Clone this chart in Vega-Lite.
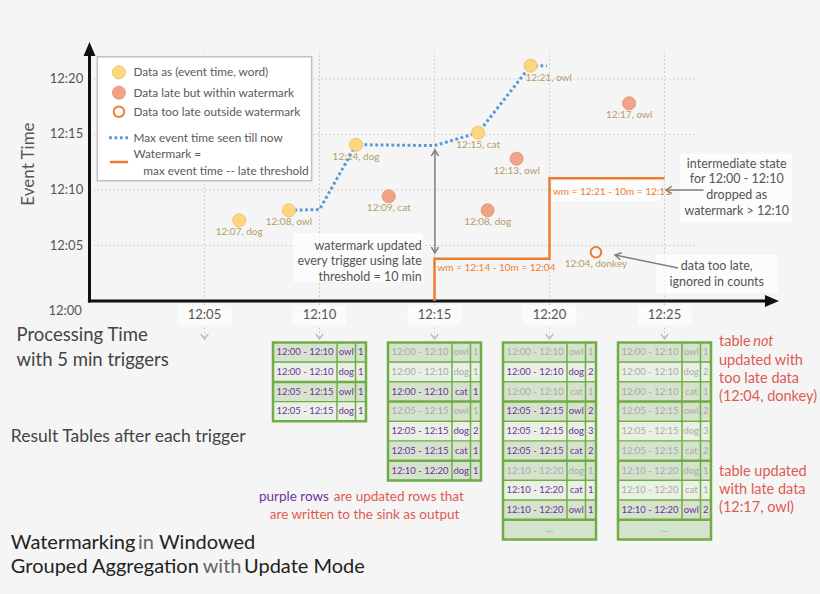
{
"$schema": "https://vega.github.io/schema/vega-lite/v6.json",
"width": 820, "height": 594,
"autosize": {"type": "fit", "contains": "padding"},
"padding": 0,
"background": "#f5f5f5",
"config": {"view": {"stroke": null}, "axis": {"disable": true}, "legend": {"disable": true}, "font": "Lato"},
"datasets": {
 "events": [
  {"pt": 6.51, "et": 7.27, "label": "12:07, dog", "kind": "on time"},
  {"pt": 8.67, "et": 8.17, "label": "12:08, owl", "kind": "on time"},
  {"pt": 11.59, "et": 14.08, "label": "12:14, dog", "kind": "on time"},
  {"pt": 16.9, "et": 15.16, "label": "12:15, cat", "kind": "on time"},
  {"pt": 19.18, "et": 21.2, "label": "12:21, owl", "kind": "on time"},
  {"pt": 13.01, "et": 9.43, "label": "12:09, cat", "kind": "late"},
  {"pt": 17.31, "et": 8.17, "label": "12:08, dog", "kind": "late"},
  {"pt": 18.57, "et": 12.82, "label": "12:13, owl", "kind": "late"},
  {"pt": 23.46, "et": 17.81, "label": "12:17, owl", "kind": "late"},
  {"pt": 22.02, "et": 4.39, "label": "12:04, donkey", "kind": "too late"}
 ],
 "maxline": [
  {"pt": 8.67, "et": 8.17}, {"pt": 10.0, "et": 8.24}, {"pt": 11.59, "et": 14.08},
  {"pt": 15.0, "et": 14.0}, {"pt": 16.9, "et": 15.16}, {"pt": 19.18, "et": 21.2}, {"pt": 19.88, "et": 21.2}
 ],
 "watermark": [
  {"i": 0, "pt": 15, "wm": 0}, {"i": 1, "pt": 15, "wm": 3.8}, {"i": 2, "pt": 20, "wm": 3.8},
  {"i": 3, "pt": 20, "wm": 11.05}, {"i": 4, "pt": 25, "wm": 11.05}
 ],
 "ticks": [
  {"t": 5, "lab": "12:05"}, {"t": 10, "lab": "12:10"}, {"t": 15, "lab": "12:15"}, {"t": 20, "lab": "12:20"}, {"t": 25, "lab": "12:25"}
 ],
 "rows": [
  {"pt": 10, "row": 0, "win": "12:00 - 12:10", "word": "owl", "count": 1, "k": 0, "upd": true, "dots": false},
  {"pt": 10, "row": 1, "win": "12:00 - 12:10", "word": "dog", "count": 1, "k": 1, "upd": true, "dots": false},
  {"pt": 10, "row": 2, "win": "12:05 - 12:15", "word": "owl", "count": 1, "k": 0, "upd": true, "dots": false},
  {"pt": 10, "row": 3, "win": "12:05 - 12:15", "word": "dog", "count": 1, "k": 1, "upd": true, "dots": false},
  {"pt": 15, "row": 0, "win": "12:00 - 12:10", "word": "owl", "count": 1, "k": 0, "upd": false, "dots": false},
  {"pt": 15, "row": 1, "win": "12:00 - 12:10", "word": "dog", "count": 1, "k": 1, "upd": false, "dots": false},
  {"pt": 15, "row": 2, "win": "12:00 - 12:10", "word": "cat", "count": 1, "k": 2, "upd": true, "dots": false},
  {"pt": 15, "row": 3, "win": "12:05 - 12:15", "word": "owl", "count": 1, "k": 0, "upd": false, "dots": false},
  {"pt": 15, "row": 4, "win": "12:05 - 12:15", "word": "dog", "count": 2, "k": 1, "upd": true, "dots": false},
  {"pt": 15, "row": 5, "win": "12:05 - 12:15", "word": "cat", "count": 1, "k": 2, "upd": true, "dots": false},
  {"pt": 15, "row": 6, "win": "12:10 - 12:20", "word": "dog", "count": 1, "k": 0, "upd": true, "dots": false},
  {"pt": 20, "row": 0, "win": "12:00 - 12:10", "word": "owl", "count": 1, "k": 0, "upd": false, "dots": false},
  {"pt": 20, "row": 1, "win": "12:00 - 12:10", "word": "dog", "count": 2, "k": 1, "upd": true, "dots": false},
  {"pt": 20, "row": 2, "win": "12:00 - 12:10", "word": "cat", "count": 1, "k": 2, "upd": false, "dots": false},
  {"pt": 20, "row": 3, "win": "12:05 - 12:15", "word": "owl", "count": 2, "k": 0, "upd": true, "dots": false},
  {"pt": 20, "row": 4, "win": "12:05 - 12:15", "word": "dog", "count": 3, "k": 1, "upd": true, "dots": false},
  {"pt": 20, "row": 5, "win": "12:05 - 12:15", "word": "cat", "count": 2, "k": 2, "upd": true, "dots": false},
  {"pt": 20, "row": 6, "win": "12:10 - 12:20", "word": "dog", "count": 1, "k": 0, "upd": false, "dots": false},
  {"pt": 20, "row": 7, "win": "12:10 - 12:20", "word": "cat", "count": 1, "k": 1, "upd": true, "dots": false},
  {"pt": 20, "row": 8, "win": "12:10 - 12:20", "word": "owl", "count": 1, "k": 2, "upd": true, "dots": false},
  {"pt": 20, "row": 9, "win": "...", "word": "", "count": null, "k": 0, "upd": false, "dots": true},
  {"pt": 25, "row": 0, "win": "12:00 - 12:10", "word": "owl", "count": 1, "k": 0, "upd": false, "dots": false},
  {"pt": 25, "row": 1, "win": "12:00 - 12:10", "word": "dog", "count": 2, "k": 1, "upd": false, "dots": false},
  {"pt": 25, "row": 2, "win": "12:00 - 12:10", "word": "cat", "count": 1, "k": 2, "upd": false, "dots": false},
  {"pt": 25, "row": 3, "win": "12:05 - 12:15", "word": "owl", "count": 2, "k": 0, "upd": false, "dots": false},
  {"pt": 25, "row": 4, "win": "12:05 - 12:15", "word": "dog", "count": 3, "k": 1, "upd": false, "dots": false},
  {"pt": 25, "row": 5, "win": "12:05 - 12:15", "word": "cat", "count": 2, "k": 2, "upd": false, "dots": false},
  {"pt": 25, "row": 6, "win": "12:10 - 12:20", "word": "dog", "count": 1, "k": 0, "upd": false, "dots": false},
  {"pt": 25, "row": 7, "win": "12:10 - 12:20", "word": "cat", "count": 1, "k": 1, "upd": false, "dots": false},
  {"pt": 25, "row": 8, "win": "12:10 - 12:20", "word": "owl", "count": 2, "k": 2, "upd": true, "dots": false},
  {"pt": 25, "row": 9, "win": "...", "word": "", "count": null, "k": 0, "upd": false, "dots": true}
 ]
},
"resolve": {"scale": {"y": "independent", "fill": "independent", "stroke": "independent"}},
"layer": [
 {"layer": [
  {"data": {"name": "ticks"}, "transform": [{"filter": "datum.t <= 20"}],
   "mark": {"type": "rule", "color": "#c9c9c9", "strokeWidth": 1, "strokeDash": [1.5, 2.5]},
   "encoding": {"x": {"datum": 0, "type": "quantitative", "scale": {"domain": [-3.891, 31.761], "nice": false, "zero": false}},
     "x2": {"datum": 26.43},
     "y": {"field": "t", "type": "quantitative", "scale": {"domain": [-26.396, 27.117], "nice": false, "zero": false}}}},
  {"data": {"name": "ticks"},
   "mark": {"type": "rule", "color": "#c4c4c4", "strokeWidth": 1, "strokeDash": [1.5, 2.5]},
   "encoding": {"x": {"field": "t", "type": "quantitative"}, "y": {"datum": -3.25, "type": "quantitative"}, "y2": {"datum": 22.43}}},
  {"data": {"name": "ticks"},
   "mark": {"type": "point", "shape": "M-0.75,-1L0,0L0.75,-1", "filled": false, "stroke": "#bdbdbd", "strokeWidth": 1.5, "size": 100, "opacity": 1},
   "encoding": {"x": {"field": "t", "type": "quantitative"}, "y": {"datum": -3.42, "type": "quantitative"}}},
  {"data": {"name": "ticks"},
   "mark": {"type": "rect", "fill": "#fbfbfb", "xOffset": -27, "x2Offset": 27},
   "encoding": {"x": {"field": "t", "type": "quantitative"}, "x2": {"field": "t"}, "y": {"datum": -0.36, "type": "quantitative"}, "y2": {"datum": -2.16}}},
  {"data": {"name": "ticks"},
   "mark": {"type": "text", "fontSize": 13, "color": "#555555", "baseline": "middle", "align": "center"},
   "encoding": {"x": {"field": "t", "type": "quantitative"}, "y": {"datum": -1.26, "type": "quantitative"}, "text": {"field": "lab"}}},
  {"data": {"name": "ticks"}, "transform": [{"filter": "datum.t <= 20"}],
   "mark": {"type": "text", "fontSize": 13, "color": "#555555", "baseline": "middle", "align": "center"},
   "encoding": {"x": {"datum": -1.0, "type": "quantitative"}, "y": {"field": "t", "type": "quantitative"}, "text": {"field": "lab"}}},
  {"data": {"values": [{}]},
   "mark": {"type": "text", "fontSize": 13, "color": "#555555", "baseline": "middle", "align": "center", "text": "12:00"},
   "encoding": {"x": {"datum": -1.06, "type": "quantitative"}, "y": {"datum": -0.87, "type": "quantitative"}}},
  {"data": {"values": [{}]},
   "mark": {"type": "text", "fontSize": 17, "color": "#555555", "baseline": "middle", "align": "center", "angle": 270, "text": "Event Time"},
   "encoding": {"x": {"datum": -2.65, "type": "quantitative"}, "y": {"datum": 12.34, "type": "quantitative"}}},

  {"data": {"values": [{}]}, "mark": {"type": "rect", "fill": "#ffffff", "opacity": 0.7},
   "encoding": {"x": {"datum": 8.85, "type": "quantitative"}, "x2": {"datum": 14.5}, "y": {"datum": 6.13, "type": "quantitative"}, "y2": {"datum": 1.71}}},
  {"data": {"values": [{}]}, "mark": {"type": "rect", "fill": "#ffffff", "opacity": 0.7},
   "encoding": {"x": {"datum": 25.67, "type": "quantitative"}, "x2": {"datum": 30.54}, "y": {"datum": 13.24, "type": "quantitative"}, "y2": {"datum": 7.12}}},
  {"data": {"values": [{}]}, "mark": {"type": "rect", "fill": "#ffffff", "opacity": 0.7},
   "encoding": {"x": {"datum": 24.63, "type": "quantitative"}, "x2": {"datum": 29.93}, "y": {"datum": 4.14, "type": "quantitative"}, "y2": {"datum": 0.72}}},
  {"data": {"values": [{}]}, "mark": {"type": "rect", "fill": "#ffffff", "opacity": 0.7},
   "encoding": {"x": {"datum": 20.1, "type": "quantitative"}, "x2": {"datum": 24.85}, "y": {"datum": 10.85, "type": "quantitative"}, "y2": {"datum": 9.0}}},

  {"data": {"values": [{}]}, "mark": {"type": "rule", "color": "#111111", "strokeWidth": 3},
   "encoding": {"x": {"datum": -0.07, "type": "quantitative"}, "x2": {"datum": 29.4}, "y": {"datum": 0, "type": "quantitative"}}},
  {"data": {"values": [{}]}, "mark": {"type": "point", "shape": "M-1,-0.85L1,0L-1,0.85Z", "filled": true, "fill": "#111111", "size": 196, "opacity": 1},
   "encoding": {"x": {"datum": 29.67, "type": "quantitative"}, "y": {"datum": 0, "type": "quantitative"}}},
  {"data": {"values": [{}]}, "mark": {"type": "rule", "color": "#111111", "strokeWidth": 3},
   "encoding": {"x": {"datum": 0, "type": "quantitative"}, "y": {"datum": -0.13, "type": "quantitative"}, "y2": {"datum": 22.2}}},
  {"data": {"values": [{}]}, "mark": {"type": "point", "shape": "M-0.85,1L0,-1L0.85,1Z", "filled": true, "fill": "#111111", "size": 196, "opacity": 1},
   "encoding": {"x": {"datum": 0, "type": "quantitative"}, "y": {"datum": 22.7, "type": "quantitative"}}},

  {"data": {"values": [{}]}, "mark": {"type": "rect", "fill": "#ffffff", "stroke": "#c0c0c0", "strokeWidth": 1.5},
   "encoding": {"x": {"datum": 0.34, "type": "quantitative"}, "x2": {"datum": 9.66}, "y": {"datum": 22.0, "type": "quantitative"}, "y2": {"datum": 10.83}}},
  {"data": {"values": [{}]}, "mark": {"type": "point", "shape": "circle", "filled": true, "fill": "#fed580", "stroke": "#f3c46a", "strokeWidth": 1, "size": 169, "opacity": 1},
   "encoding": {"x": {"datum": 1.28, "type": "quantitative"}, "y": {"datum": 20.6, "type": "quantitative"}}},
  {"data": {"values": [{}]}, "mark": {"type": "point", "shape": "circle", "filled": true, "fill": "#f0a386", "stroke": "#e8977c", "strokeWidth": 1, "size": 169, "opacity": 1},
   "encoding": {"x": {"datum": 1.28, "type": "quantitative"}, "y": {"datum": 18.77, "type": "quantitative"}}},
  {"data": {"values": [{}]}, "mark": {"type": "point", "shape": "circle", "filled": false, "fill": "#ffffff", "stroke": "#ed7d31", "strokeWidth": 2, "size": 110, "opacity": 1},
   "encoding": {"x": {"datum": 1.28, "type": "quantitative"}, "y": {"datum": 17.05, "type": "quantitative"}}},
  {"data": {"values": [{}]}, "mark": {"type": "rule", "color": "#5b9bd5", "strokeWidth": 3, "strokeDash": [2.8, 2.6]},
   "encoding": {"x": {"datum": 0.85, "type": "quantitative"}, "x2": {"datum": 1.68}, "y": {"datum": 14.71, "type": "quantitative"}}},
  {"data": {"values": [{}]}, "mark": {"type": "rule", "color": "#ed7d31", "strokeWidth": 2.5},
   "encoding": {"x": {"datum": 0.89, "type": "quantitative"}, "x2": {"datum": 1.68}, "y": {"datum": 12.52, "type": "quantitative"}}},
  {"data": {"values": [{}]}, "mark": {"type": "text", "fontSize": 11.8, "color": "#595959", "align": "left", "baseline": "middle", "text": "Data as (event time, word)"},
   "encoding": {"x": {"datum": 1.91, "type": "quantitative"}, "y": {"datum": 20.6, "type": "quantitative"}}},
  {"data": {"values": [{}]}, "mark": {"type": "text", "fontSize": 11.8, "color": "#595959", "align": "left", "baseline": "middle", "text": "Data late but within watermark"},
   "encoding": {"x": {"datum": 1.91, "type": "quantitative"}, "y": {"datum": 18.77, "type": "quantitative"}}},
  {"data": {"values": [{}]}, "mark": {"type": "text", "fontSize": 11.8, "color": "#595959", "align": "left", "baseline": "middle", "text": "Data too late outside watermark"},
   "encoding": {"x": {"datum": 1.91, "type": "quantitative"}, "y": {"datum": 17.05, "type": "quantitative"}}},
  {"data": {"values": [{}]}, "mark": {"type": "text", "fontSize": 11.8, "color": "#595959", "align": "left", "baseline": "middle", "text": "Max event time seen till now"},
   "encoding": {"x": {"datum": 1.91, "type": "quantitative"}, "y": {"datum": 14.71, "type": "quantitative"}}},
  {"data": {"values": [{}]}, "mark": {"type": "text", "fontSize": 11.8, "color": "#595959", "align": "left", "baseline": "middle", "text": "Watermark ="},
   "encoding": {"x": {"datum": 1.91, "type": "quantitative"}, "y": {"datum": 13.2, "type": "quantitative"}}},
  {"data": {"values": [{}]}, "mark": {"type": "text", "fontSize": 11.8, "color": "#595959", "align": "left", "baseline": "middle", "text": "max event time -- late threshold"},
   "encoding": {"x": {"datum": 2.34, "type": "quantitative"}, "y": {"datum": 11.71, "type": "quantitative"}}},

  {"data": {"name": "watermark"}, "mark": {"type": "line", "color": "#ed7d31", "strokeWidth": 2.5},
   "encoding": {"x": {"field": "pt", "type": "quantitative"}, "y": {"field": "wm", "type": "quantitative"}, "order": {"field": "i"}}},
  {"data": {"name": "maxline"}, "mark": {"type": "line", "color": "#5b9bd5", "strokeWidth": 3, "strokeDash": [2.8, 2.6]},
   "encoding": {"x": {"field": "pt", "type": "quantitative"}, "y": {"field": "et", "type": "quantitative"}}},

  {"data": {"values": [{}]}, "mark": {"type": "rule", "color": "#7f7f7f", "strokeWidth": 1.5},
   "encoding": {"x": {"datum": 15.02, "type": "quantitative"}, "y": {"datum": 13.6, "type": "quantitative"}, "y2": {"datum": 4.32}}},
  {"data": {"values": [{}]}, "mark": {"type": "point", "shape": "M-0.6,1L0,0L0.6,1", "filled": false, "stroke": "#7f7f7f", "strokeWidth": 1.5, "size": 144, "opacity": 1},
   "encoding": {"x": {"datum": 15.02, "type": "quantitative"}, "y": {"datum": 13.6, "type": "quantitative"}}},
  {"data": {"values": [{}]}, "mark": {"type": "point", "shape": "M-0.6,-1L0,0L0.6,-1", "filled": false, "stroke": "#7f7f7f", "strokeWidth": 1.5, "size": 144, "opacity": 1},
   "encoding": {"x": {"datum": 15.02, "type": "quantitative"}, "y": {"datum": 4.32, "type": "quantitative"}}},
  {"data": {"values": [{}]}, "mark": {"type": "rule", "color": "#7f7f7f", "strokeWidth": 1.5},
   "encoding": {"x": {"datum": 25.06, "type": "quantitative"}, "x2": {"datum": 26.7}, "y": {"datum": 10.0, "type": "quantitative"}}},
  {"data": {"values": [{}]}, "mark": {"type": "point", "shape": "M1,-0.6L0,0L1,0.6", "filled": false, "stroke": "#7f7f7f", "strokeWidth": 1.5, "size": 144, "opacity": 1},
   "encoding": {"x": {"datum": 25.06, "type": "quantitative"}, "y": {"datum": 10.0, "type": "quantitative"}}},
  {"data": {"values": [{}]}, "mark": {"type": "rule", "color": "#7f7f7f", "strokeWidth": 1.5},
   "encoding": {"x": {"datum": 22.85, "type": "quantitative"}, "x2": {"datum": 25.59}, "y": {"datum": 4.14, "type": "quantitative"}, "y2": {"datum": 2.97}}},
  {"data": {"values": [{}]}, "mark": {"type": "point", "shape": "M1,-0.6L0,0L1,0.6", "filled": false, "stroke": "#7f7f7f", "strokeWidth": 1.5, "size": 144, "angle": 11.7, "opacity": 1},
   "encoding": {"x": {"datum": 22.85, "type": "quantitative"}, "y": {"datum": 4.14, "type": "quantitative"}}},

  {"data": {"name": "events"}, "transform": [{"filter": "datum.kind != 'too late'"}],
   "mark": {"type": "point", "shape": "circle", "filled": true, "size": 169, "strokeWidth": 1, "opacity": 1},
   "encoding": {"x": {"field": "pt", "type": "quantitative"}, "y": {"field": "et", "type": "quantitative"},
     "fill": {"field": "kind", "type": "nominal", "scale": {"domain": ["on time", "late"], "range": ["#fed580", "#f0a386"]}},
     "stroke": {"field": "kind", "type": "nominal", "scale": {"domain": ["on time", "late"], "range": ["#f3c46a", "#e8977c"]}}}},
  {"data": {"name": "events"}, "transform": [{"filter": "datum.kind == 'too late'"}],
   "mark": {"type": "point", "shape": "circle", "filled": false, "fill": "#f8f8f8", "stroke": "#ed7d31", "strokeWidth": 2, "size": 110, "opacity": 1},
   "encoding": {"x": {"field": "pt", "type": "quantitative"}, "y": {"field": "et", "type": "quantitative"}}},
  {"data": {"name": "events"}, "transform": [{"filter": "datum.label != '12:21, owl'"}],
   "mark": {"type": "text", "fontSize": 10, "color": "#b39c68", "baseline": "middle", "align": "center", "dy": 12},
   "encoding": {"x": {"field": "pt", "type": "quantitative"}, "y": {"field": "et", "type": "quantitative"}, "text": {"field": "label"}}},
  {"data": {"name": "events"}, "transform": [{"filter": "datum.label == '12:21, owl'"}],
   "mark": {"type": "text", "fontSize": 10, "color": "#b39c68", "baseline": "middle", "align": "center", "dy": 12.5, "dx": 18},
   "encoding": {"x": {"field": "pt", "type": "quantitative"}, "y": {"field": "et", "type": "quantitative"}, "text": {"field": "label"}}},

  {"data": {"values": [{}]}, "mark": {"type": "text", "fontSize": 10, "color": "#ed7d31", "align": "left", "baseline": "middle", "text": "wm = 12:14 - 10m = 12:04"},
   "encoding": {"x": {"datum": 15.13, "type": "quantitative"}, "y": {"datum": 2.97, "type": "quantitative"}}},
  {"data": {"values": [{}]}, "mark": {"type": "text", "fontSize": 10, "color": "#ed7d31", "align": "left", "baseline": "middle", "text": "wm = 12:21 - 10m = 12:11"},
   "encoding": {"x": {"datum": 20.15, "type": "quantitative"}, "y": {"datum": 9.85, "type": "quantitative"}}},

  {"data": {"values": [{}]}, "mark": {"type": "text", "fontSize": 12.5, "color": "#555555", "align": "right", "baseline": "middle", "lineHeight": 15.5,
     "text": ["watermark updated", "every trigger using late", "threshold = 10 min"]},
   "encoding": {"x": {"datum": 14.45, "type": "quantitative"}, "y": {"datum": 5.0, "type": "quantitative"}}},
  {"data": {"values": [{}]}, "mark": {"type": "text", "fontSize": 12.5, "color": "#555555", "align": "center", "baseline": "middle", "lineHeight": 15.6,
     "text": ["intermediate state", "for 12:00 - 12:10", "dropped as", "watermark > 12:10"]},
   "encoding": {"x": {"datum": 28.14, "type": "quantitative"}, "y": {"datum": 12.36, "type": "quantitative"}}},
  {"data": {"values": [{}]}, "mark": {"type": "text", "fontSize": 12.5, "color": "#555555", "align": "center", "baseline": "middle", "lineHeight": 15.7,
     "text": ["data too late,", "ignored in counts"]},
   "encoding": {"x": {"datum": 27.27, "type": "quantitative"}, "y": {"datum": 3.15, "type": "quantitative"}}},

  {"data": {"values": [{}]}, "mark": {"type": "text", "fontSize": 18.5, "color": "#444444", "align": "left", "baseline": "middle", "lineHeight": 25,
     "text": ["Processing Time", "with 5 min triggers"]},
   "encoding": {"x": {"datum": -3.17, "type": "quantitative"}, "y": {"datum": -3.06, "type": "quantitative"}}},
  {"data": {"values": [{}]}, "mark": {"type": "text", "fontSize": 17.5, "color": "#444444", "align": "left", "baseline": "middle", "text": "Result Tables after each trigger"},
   "encoding": {"x": {"datum": -3.42, "type": "quantitative"}, "y": {"datum": -12.23, "type": "quantitative"}}},
  {"data": {"values": [{}]}, "mark": {"type": "text", "fontSize": 20, "color": "#222222", "align": "left", "baseline": "middle", "text": "Watermarking"},
   "encoding": {"x": {"datum": -3.42, "type": "quantitative"}, "y": {"datum": -21.77, "type": "quantitative"}}},
  {"data": {"values": [{}]}, "mark": {"type": "text", "fontSize": 20, "color": "#666666", "align": "left", "baseline": "middle", "text": "in"},
   "encoding": {"x": {"datum": 2.11, "type": "quantitative"}, "y": {"datum": -21.77, "type": "quantitative"}}},
  {"data": {"values": [{}]}, "mark": {"type": "text", "fontSize": 20, "color": "#222222", "align": "left", "baseline": "middle", "text": "Windowed"},
   "encoding": {"x": {"datum": 3.02, "type": "quantitative"}, "y": {"datum": -21.77, "type": "quantitative"}}},
  {"data": {"values": [{}]}, "mark": {"type": "text", "fontSize": 20, "color": "#222222", "align": "left", "baseline": "middle", "text": "Grouped Aggregation"},
   "encoding": {"x": {"datum": -3.42, "type": "quantitative"}, "y": {"datum": -23.94, "type": "quantitative"}}},
  {"data": {"values": [{}]}, "mark": {"type": "text", "fontSize": 20, "color": "#666666", "align": "left", "baseline": "middle", "text": "with"},
   "encoding": {"x": {"datum": 4.92, "type": "quantitative"}, "y": {"datum": -23.94, "type": "quantitative"}}},
  {"data": {"values": [{}]}, "mark": {"type": "text", "fontSize": 20, "color": "#222222", "align": "left", "baseline": "middle", "text": "Update Mode"},
   "encoding": {"x": {"datum": 6.72, "type": "quantitative"}, "y": {"datum": -23.94, "type": "quantitative"}}},
  {"data": {"values": [{}]}, "mark": {"type": "text", "fontSize": 13.5, "color": "#7030a0", "align": "left", "baseline": "middle", "text": "purple rows"},
   "encoding": {"x": {"datum": 7.37, "type": "quantitative"}, "y": {"datum": -17.63, "type": "quantitative"}}},
  {"data": {"values": [{}]}, "mark": {"type": "text", "fontSize": 13.5, "color": "#de5b52", "align": "left", "baseline": "middle", "text": "are updated rows that"},
   "encoding": {"x": {"datum": 10.62, "type": "quantitative"}, "y": {"datum": -17.63, "type": "quantitative"}}},
  {"data": {"values": [{}]}, "mark": {"type": "text", "fontSize": 13.5, "color": "#de5b52", "align": "center", "baseline": "middle", "text": "are written to the sink as output"},
   "encoding": {"x": {"datum": 11.96, "type": "quantitative"}, "y": {"datum": -19.28, "type": "quantitative"}}},
  {"data": {"values": [{}]}, "mark": {"type": "text", "fontSize": 14.5, "color": "#de5b52", "align": "left", "baseline": "middle", "text": "table"},
   "encoding": {"x": {"datum": 27.37, "type": "quantitative"}, "y": {"datum": -3.72, "type": "quantitative"}}},
  {"data": {"values": [{}]}, "mark": {"type": "text", "fontSize": 14.5, "color": "#de5b52", "align": "left", "baseline": "middle", "fontStyle": "italic", "text": "not"},
   "encoding": {"x": {"datum": 28.86, "type": "quantitative"}, "y": {"datum": -3.72, "type": "quantitative"}}},
  {"data": {"values": [{}]}, "mark": {"type": "text", "fontSize": 14.5, "color": "#de5b52", "align": "left", "baseline": "middle", "lineHeight": 18.1,
     "text": ["updated with", "too late data", "(12:04, donkey)"]},
   "encoding": {"x": {"datum": 27.37, "type": "quantitative"}, "y": {"datum": -5.37, "type": "quantitative"}}},
  {"data": {"values": [{}]}, "mark": {"type": "text", "fontSize": 14.5, "color": "#de5b52", "align": "left", "baseline": "middle", "lineHeight": 18.3,
     "text": ["table updated", "with late data", "(12:17, owl)"]},
   "encoding": {"x": {"datum": 27.37, "type": "quantitative"}, "y": {"datum": -15.38, "type": "quantitative"}}}
 ]},
 {"layer": [
  {"data": {"name": "rows"},
   "mark": {"type": "rect", "stroke": "#70ad47", "strokeWidth": 1.2, "xOffset": -46.5, "x2Offset": 46.5, "yOffset": -9.85, "y2Offset": 9.85},
   "encoding": {"x": {"field": "pt", "type": "quantitative"}, "x2": {"field": "pt"},
     "y": {"field": "row", "type": "quantitative", "scale": {"domain": [-17.886, 12.266], "reverse": true, "nice": false, "zero": false}}, "y2": {"field": "row"},
     "fill": {"condition": {"test": "datum.k == 1", "value": "#e9f1e4"}, "value": "#d5e3cc"}}},
  {"data": {"name": "rows"}, "transform": [{"filter": "!datum.dots"}],
   "mark": {"type": "rule", "color": "#70ad47", "strokeWidth": 1.5, "xOffset": 17.5, "yOffset": -9.85, "y2Offset": 9.85},
   "encoding": {"x": {"field": "pt", "type": "quantitative"},
     "y": {"field": "row", "type": "quantitative", "scale": {"domain": [-17.886, 12.266], "reverse": true, "nice": false, "zero": false}}, "y2": {"field": "row"}}},
  {"data": {"name": "rows"}, "transform": [{"filter": "!datum.dots"}],
   "mark": {"type": "rule", "color": "#70ad47", "strokeWidth": 1.5, "xOffset": 36, "yOffset": -9.85, "y2Offset": 9.85},
   "encoding": {"x": {"field": "pt", "type": "quantitative"},
     "y": {"field": "row", "type": "quantitative", "scale": {"domain": [-17.886, 12.266], "reverse": true, "nice": false, "zero": false}}, "y2": {"field": "row"}}},
  {"data": {"name": "rows"}, "transform": [{"filter": "datum.k == 0 && datum.row > 0"}],
   "mark": {"type": "rule", "color": "#70ad47", "strokeWidth": 2.5, "xOffset": -46.5, "x2Offset": 46.5, "yOffset": -9.85},
   "encoding": {"x": {"field": "pt", "type": "quantitative"}, "x2": {"field": "pt"},
     "y": {"field": "row", "type": "quantitative", "scale": {"domain": [-17.886, 12.266], "reverse": true, "nice": false, "zero": false}}}},
  {"data": {"name": "rows"}, "transform": [{"aggregate": [{"op": "min", "field": "row", "as": "r0"}, {"op": "max", "field": "row", "as": "r1"}], "groupby": ["pt"]}],
   "mark": {"type": "rect", "fill": "transparent", "stroke": "#70ad47", "strokeWidth": 2.5, "xOffset": -46.5, "x2Offset": 46.5, "yOffset": -9.85, "y2Offset": 9.85},
   "encoding": {"x": {"field": "pt", "type": "quantitative"}, "x2": {"field": "pt"},
     "y": {"field": "r0", "type": "quantitative", "scale": {"domain": [-17.886, 12.266], "reverse": true, "nice": false, "zero": false}}, "y2": {"field": "r1"}}},
  {"data": {"name": "rows"}, "transform": [{"filter": "!datum.dots"}],
   "mark": {"type": "text", "fontSize": 9.5, "baseline": "middle", "align": "center", "dx": -14.5},
   "encoding": {"x": {"field": "pt", "type": "quantitative"},
     "y": {"field": "row", "type": "quantitative", "scale": {"domain": [-17.886, 12.266], "reverse": true, "nice": false, "zero": false}},
     "text": {"field": "win"}, "color": {"condition": {"test": "datum.upd", "value": "#7030a0"}, "value": "#a9a9a9"}}},
  {"data": {"name": "rows"}, "transform": [{"filter": "!datum.dots"}],
   "mark": {"type": "text", "fontSize": 9.5, "baseline": "middle", "align": "center", "dx": 26.75},
   "encoding": {"x": {"field": "pt", "type": "quantitative"},
     "y": {"field": "row", "type": "quantitative", "scale": {"domain": [-17.886, 12.266], "reverse": true, "nice": false, "zero": false}},
     "text": {"field": "word"}, "color": {"condition": {"test": "datum.upd", "value": "#7030a0"}, "value": "#a9a9a9"}}},
  {"data": {"name": "rows"}, "transform": [{"filter": "!datum.dots"}],
   "mark": {"type": "text", "fontSize": 9.5, "baseline": "middle", "align": "center", "dx": 41.25},
   "encoding": {"x": {"field": "pt", "type": "quantitative"},
     "y": {"field": "row", "type": "quantitative", "scale": {"domain": [-17.886, 12.266], "reverse": true, "nice": false, "zero": false}},
     "text": {"field": "count"}, "color": {"condition": {"test": "datum.upd", "value": "#7030a0"}, "value": "#a9a9a9"}}},
  {"data": {"name": "rows"}, "transform": [{"filter": "datum.dots"}],
   "mark": {"type": "text", "fontSize": 10, "baseline": "middle", "align": "center", "color": "#999999", "dy": -1},
   "encoding": {"x": {"field": "pt", "type": "quantitative"},
     "y": {"field": "row", "type": "quantitative", "scale": {"domain": [-17.886, 12.266], "reverse": true, "nice": false, "zero": false}},
     "text": {"field": "win"}}}
 ]}
]
}
